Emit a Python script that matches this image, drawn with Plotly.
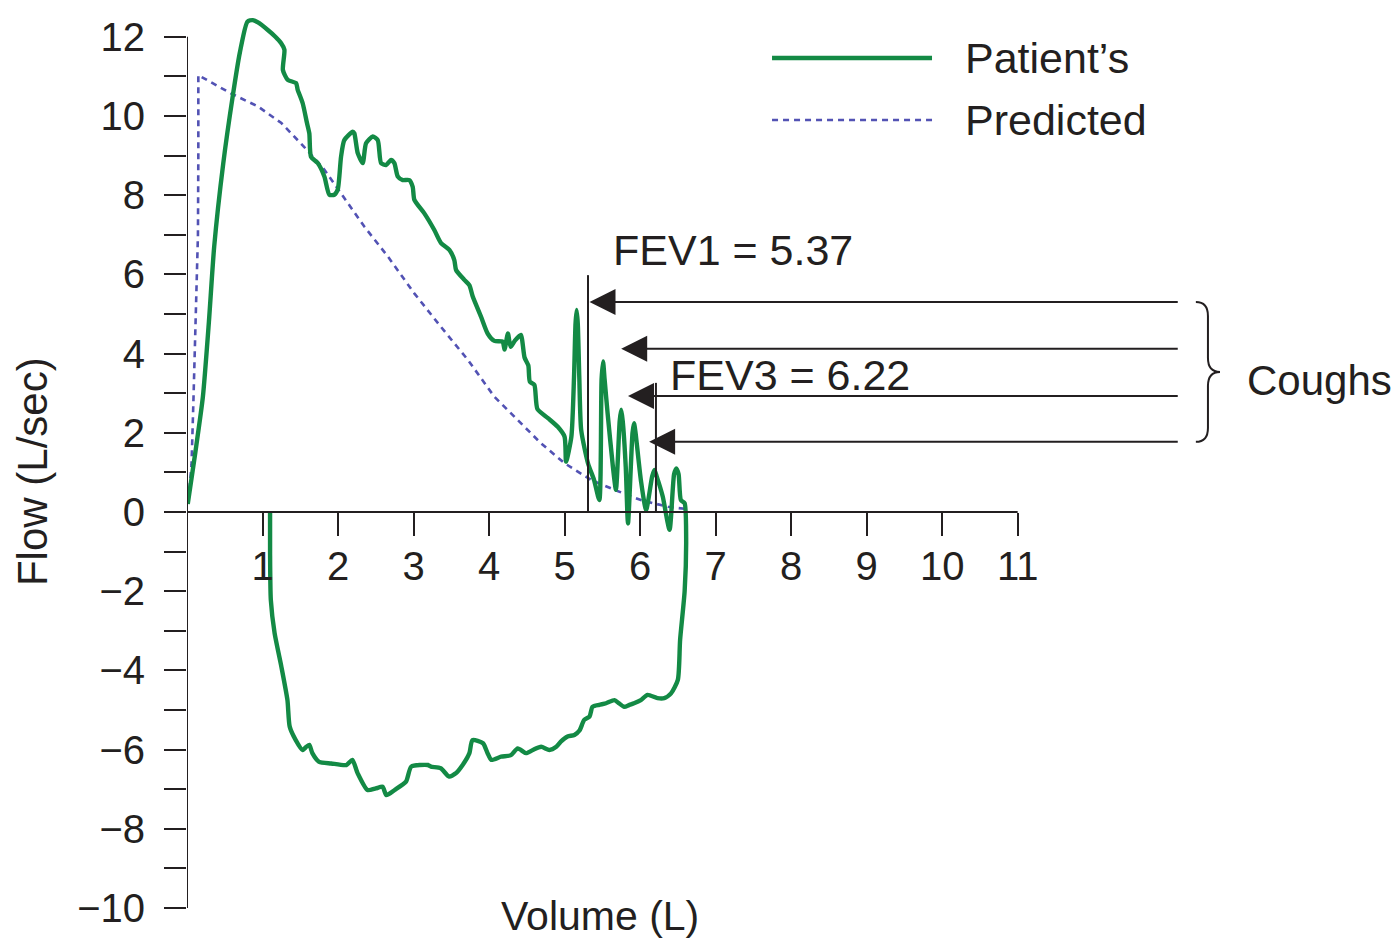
import plotly.graph_objects as go

# ---------------- data ----------------
patient_x = [0.01, 0.11, 0.21, 0.29, 0.36, 0.48, 0.605, 0.70, 0.80, 0.87, 0.94, 1.07, 1.17, 1.245, 1.29,
             1.27, 1.334, 1.444, 1.466, 1.532, 1.589, 1.62, 1.642, 1.731, 1.819, 1.885, 1.951, 1.996,
             2.04, 2.083, 2.195, 2.216, 2.261, 2.327, 2.371, 2.46, 2.526, 2.57, 2.636, 2.702, 2.746,
             2.791, 2.857, 2.944, 2.989, 3.011, 3.143, 3.275, 3.364, 3.474, 3.54, 3.563, 3.673, 3.739,
             3.784, 3.894, 3.983, 4.07, 4.18, 4.205, 4.25, 4.285, 4.34, 4.42, 4.47, 4.52, 4.54, 4.60,
             4.64, 4.78, 4.91, 5.00, 5.02, 5.09, 5.125, 5.145, 5.16, 5.175, 5.195, 5.22, 5.31, 5.39,
             5.46, 5.49, 5.51, 5.53, 5.57, 5.64, 5.68, 5.73, 5.75, 5.77, 5.81, 5.84, 5.90, 5.92, 5.94,
             6.01, 6.08, 6.16, 6.19, 6.22, 6.30, 6.39, 6.45, 6.48, 6.51, 6.54, 6.59, 6.61,
             6.59, 6.53, 6.50, 6.41, 6.32, 6.23, 6.10, 6.01, 5.92, 5.86, 5.79, 5.72, 5.66, 5.55, 5.46,
             5.37, 5.33, 5.26, 5.20, 5.13, 5.04, 4.95, 4.89, 4.80, 4.69, 4.58, 4.49, 4.38, 4.29, 4.16,
             4.03, 3.98, 3.92, 3.78, 3.74, 3.65, 3.56, 3.47, 3.36, 3.23, 3.19, 2.97, 2.90, 2.75, 2.64,
             2.59, 2.50, 2.39, 2.26, 2.19, 2.11, 1.91, 1.75, 1.66, 1.62, 1.58, 1.53, 1.44, 1.36, 1.33,
             1.25, 1.16, 1.11, 1.10, 1.10]
patient_y = [0.2, 1.5, 2.9, 4.8, 6.7, 8.8, 10.49, 11.6, 12.38, 12.42, 12.36, 12.17, 12.0, 11.84, 11.67,
             11.16, 10.91, 10.83, 10.66, 10.32, 9.82, 9.56, 8.97, 8.81, 8.47, 8.01, 8.01, 8.14,
             8.97, 9.39, 9.60, 9.56, 9.06, 8.81, 9.31, 9.48, 9.39, 8.81, 8.76, 8.89, 8.81,
             8.47, 8.38, 8.38, 8.21, 7.88, 7.54, 7.12, 6.79, 6.62, 6.36, 6.11, 5.86, 5.73,
             5.44, 4.93, 4.50, 4.32, 4.30, 4.10, 4.51, 4.17, 4.32, 4.47, 3.90, 3.70, 3.29, 3.21,
             2.60, 2.37, 2.15, 1.90, 1.27, 1.9, 3.4, 4.75, 5.10, 4.75, 3.4, 2.07, 1.23, 0.81,
             0.30, 3.35, 3.80, 3.35, 2.49, 1.14, 0.56, 2.3, 2.58, 2.3, 1.14, -0.29, 2.0, 2.24, 2.0,
             0.81, 0.05, 0.9, 1.06, 0.9, 0.39, -0.45, 0.95, 1.10, 0.95, 0.30, 0.22, -0.66,
             -2.0, -3.23, -4.24, -4.58, -4.70, -4.70, -4.62, -4.75, -4.83, -4.87, -4.92, -4.83, -4.75, -4.83, -4.87,
             -4.92, -5.17, -5.25, -5.51, -5.63, -5.67, -5.80, -5.93, -6.01, -5.93, -6.01, -6.09, -5.97, -6.14, -6.18,
             -6.26, -6.09, -5.84, -5.76, -6.09, -6.39, -6.60, -6.68, -6.47, -6.43, -6.39, -6.43, -6.81, -7.02, -7.15,
             -6.94, -6.98, -7.02, -6.60, -6.26, -6.39, -6.35, -6.31, -6.09, -5.88, -5.93, -6.01, -5.76, -5.42, -4.75,
             -3.91, -3.06, -2.22, -1.0, 0.0]

predicted_x = [0.02, 0.06, 0.085, 0.12, 0.145, 0.15, 0.15, 0.58, 0.94, 1.25, 1.55, 1.82, 2.04, 2.35,
               2.66, 3.01, 3.36, 3.72, 4.07, 4.42, 4.69, 5.00, 5.35, 5.66, 6.01, 6.37, 6.63]
predicted_y = [0.3, 1.2, 2.8, 5.0, 7.0, 9.0, 11.03, 10.57, 10.24, 9.82, 9.22, 8.64, 8.05, 7.20,
               6.45, 5.52, 4.68, 3.84, 2.91, 2.24, 1.73, 1.23, 0.81, 0.56, 0.30, 0.13, 0.07]

series_names = ["Patient\u2019s", "Predicted"]

x_tick_vals = [1, 2, 3, 4, 5, 6, 7, 8, 9, 10, 11]
x_tick_text = ["1", "2", "3", "4", "5", "6", "7", "8", "9", "10", "11"]
y_tick_vals = list(range(-10, 13))
y_tick_text = ["\u221210", "", "\u22128", "", "\u22126", "", "\u22124", "", "\u22122", "", "0", "",
               "2", "", "4", "", "6", "", "8", "", "10", "", "12"]

fev_labels = ["FEV1 = 5.37", "FEV3 = 6.22"]
fev_line_x = [5.31, 6.21]
fev_line_top = [5.98, 3.26]

cough_row_y = [5.30, 4.12, 2.93, 1.77]
cough_tip_x = [5.33, 5.75, 5.84, 6.12]
cough_tail_x = 13.14
cough_label = "Coughs"

x_title = "Volume (L)"
y_title = "Flow (L/sec)"

# ---------------- style ----------------
GREEN = "#138a45"
BLUE = "#5252b4"
INK = "#231f20"
FONT = "Liberation Sans, Arial, Helvetica, sans-serif"
X_MAX_AXIS = 11
Y_MIN, Y_MAX_AXIS, Y_TOP = -10, 12, 12.7
X_RANGE = [0, 16.05]

fig = go.Figure()
fig.add_trace(go.Scatter(x=predicted_x, y=predicted_y, mode="lines", name=series_names[1],
                         line=dict(color=BLUE, width=2.6, dash="6px,5px"), showlegend=False))
fig.add_trace(go.Scatter(x=patient_x, y=patient_y, mode="lines", name=series_names[0],
                         line=dict(color=GREEN, width=4.4, shape="spline", smoothing=0.6),
                         showlegend=False))

shapes = []
# axis lines
shapes.append(dict(type="line", xref="x", yref="y", x0=0, x1=X_MAX_AXIS, y0=0, y1=0,
                   line=dict(color=INK, width=2)))
shapes.append(dict(type="line", xref="x", yref="y", x0=0, x1=0, y0=Y_MIN, y1=Y_MAX_AXIS,
                   line=dict(color=INK, width=2)))
# FEV markers
for fx, ft in zip(fev_line_x, fev_line_top):
    shapes.append(dict(type="line", xref="x", yref="y", x0=fx, x1=fx, y0=0, y1=ft,
                       line=dict(color=INK, width=2)))

# brace around cough arrows
top, bot = max(cough_row_y), min(cough_row_y)
mid = (top + bot) / 2
bx0 = cough_tail_x + 0.22
bx1 = bx0 + 0.16
bx2 = bx0 + 0.32
r = 0.35
path = (f"M {bx0},{top} Q {bx1},{top} {bx1},{top - r} "
        f"L {bx1},{mid + r} Q {bx1},{mid} {bx2},{mid} "
        f"Q {bx1},{mid} {bx1},{mid - r} "
        f"L {bx1},{bot + r} Q {bx1},{bot} {bx0},{bot}")
shapes.append(dict(type="path", xref="x", yref="y", path=path, line=dict(color=INK, width=2)))

# legend samples (paper coords)
shapes.append(dict(type="line", xref="paper", yref="paper", x0=0.4827, x1=0.6147, y0=0.9455, y1=0.9455,
                   line=dict(color=GREEN, width=4.4)))
shapes.append(dict(type="line", xref="paper", yref="paper", x0=0.4827, x1=0.6147, y0=0.8765, y1=0.8765,
                   line=dict(color=BLUE, width=2.6, dash="6px,5px")))

annotations = []
# arrows
for ry, tx in zip(cough_row_y, cough_tip_x):
    annotations.append(dict(x=tx, y=ry, ax=cough_tail_x, ay=ry, xref="x", yref="y", axref="x", ayref="y",
                            text="", showarrow=True, arrowhead=2, arrowsize=2.6, arrowwidth=2,
                            arrowcolor=INK, standoff=0))
# FEV labels
annotations.append(dict(x=5.62, y=6.62, xref="x", yref="y", text=fev_labels[0], showarrow=False,
                        xanchor="left", yanchor="middle", font=dict(size=43, color=INK, family=FONT)))
annotations.append(dict(x=6.37, y=3.46, xref="x", yref="y", text=fev_labels[1], showarrow=False,
                        xanchor="left", yanchor="middle", font=dict(size=43, color=INK, family=FONT)))
annotations.append(dict(x=bx2 + 0.33, y=3.33, xref="x", yref="y", text=cough_label, showarrow=False,
                        xanchor="left", yanchor="middle", font=dict(size=42, color=INK, family=FONT)))
# legend text
annotations.append(dict(x=0.6403, y=0.9455, xref="paper", yref="paper", text=series_names[0],
                        showarrow=False, xanchor="left", yanchor="middle",
                        font=dict(size=43, color=INK, family=FONT)))
annotations.append(dict(x=0.6403, y=0.8765, xref="paper", yref="paper", text=series_names[1],
                        showarrow=False, xanchor="left", yanchor="middle",
                        font=dict(size=43, color=INK, family=FONT)))
# axis titles
annotations.append(dict(x=0.3408, y=-0.0367, xref="paper", yref="paper", text=x_title, showarrow=False,
                        xanchor="center", yanchor="bottom", font=dict(size=41, color=INK, family=FONT)))
annotations.append(dict(x=-0.127, y=0.485, xref="paper", yref="paper", text=y_title, showarrow=False,
                        textangle=-90, xanchor="center", yanchor="middle",
                        font=dict(size=42, color=INK, family=FONT)))

# The page body has an 8 px margin, so the figure is sized to fit the remaining window.
fig.update_layout(
    width=1391, height=933,
    margin=dict(l=179, r=0, t=1, b=33, autoexpand=False),
    paper_bgcolor="white", plot_bgcolor="white",
    showlegend=False,
    font=dict(family=FONT, color=INK),
    shapes=shapes, annotations=annotations,
    xaxis=dict(range=X_RANGE, showgrid=False, zeroline=False, showline=False, automargin=False,
               anchor="free", position=(0 - Y_MIN) / (Y_TOP - Y_MIN),
               tickmode="array", tickvals=x_tick_vals, ticktext=x_tick_text,
               ticks="outside", ticklen=23, tickwidth=2, tickcolor=INK,
               tickfont=dict(size=40, color=INK, family=FONT), ticklabelstandoff=-4),
    yaxis=dict(range=[Y_MIN, Y_TOP], showgrid=False, zeroline=False, showline=False, automargin=False,
               tickmode="array", tickvals=y_tick_vals, ticktext=y_tick_text,
               ticks="outside", ticklen=22, tickwidth=2, tickcolor=INK,
               tickfont=dict(size=40, color=INK, family=FONT), ticklabelstandoff=11),
)

fig.write_html("out.html")
